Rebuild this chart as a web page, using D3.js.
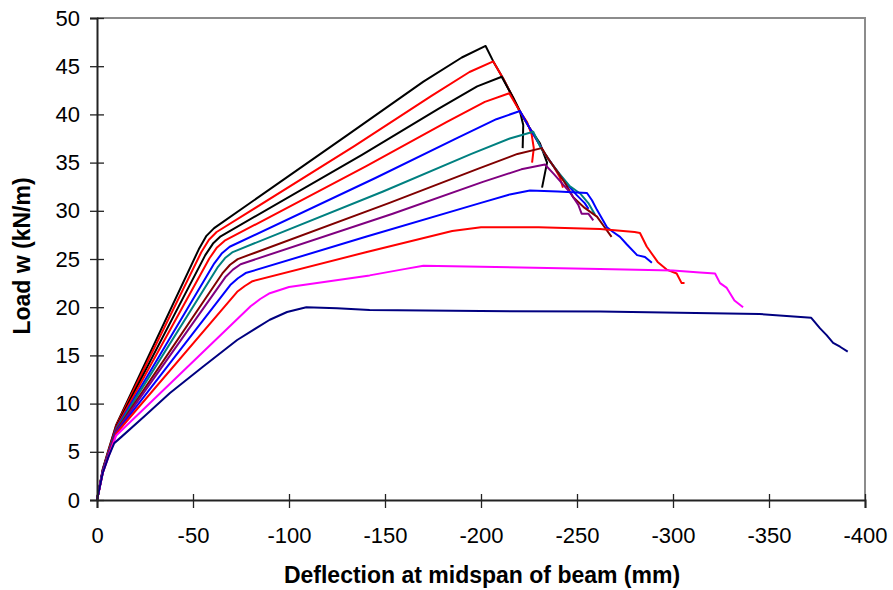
<!DOCTYPE html>
<html>
<head>
<meta charset="utf-8">
<script src="https://cdn.jsdelivr.net/npm/d3@7"></script>
<style>
  body { margin: 0; background: #fff; }
  svg { font-family: "Liberation Sans", Arial, sans-serif; }
  .line { fill: none; stroke-width: 2; stroke-linejoin: round; }
</style>
</head>
<body>
<svg id="chart" width="893" height="590"></svg>
<script>
// load–deflection curves, [deflection (mm), load (kN/m)]
const black1 = [[0,0],[-3,3.2],[-6,5.2],[-10,7.8],[-53,26.0],[-57,27.4],[-61,28.2],[-130,37.8],[-170,43.4],[-190,45.9],[-202.4,47.1],
  [-206.4,45.5],[-211.6,43.7],[-216.8,41.7],[-220.3,40.3],[-222,38.9],[-221.7,36.5]];
const red2 = [[0,0],[-3,3.1],[-6,5.1],[-10,7.7],[-54.3,25.7],[-58.3,27.0],[-62.3,27.8],[-134,36.7],[-174,41.9],[-194,44.4],[-206.4,45.5],
  [-211.6,43.7],[-216.8,41.7],[-220.3,40.3],[-224,39.2],[-226.4,37.9],[-227.5,36.5],[-226.6,35.0]];
const black3 = [[0,0],[-3,3.1],[-6,5.0],[-10,7.6],[-56.4,25.4],[-60.4,26.6],[-64.4,27.35],[-138,35.8],[-178,40.6],[-198,42.9],[-210.8,43.9],
  [-216.8,41.7],[-220.3,40.3],[-225,38.7],[-230.7,37.0],[-234.4,35.0],[-231.8,32.4]];
const red4 = [[0,0],[-3,3.0],[-6,5.0],[-10,7.5],[-58.5,25.05],[-62.5,26.2],[-66.5,26.9],[-140,34.6],[-182,39.2],[-202,41.3],[-214.7,42.2],
  [-220.3,40.3],[-225,38.7],[-229.2,37.3],[-233,36.0],[-237.5,34.7],[-241,33.5],[-242.7,32.4]];
const blue5 = [[0,0],[-3,3.0],[-6,4.9],[-10,7.4],[-61.1,24.55],[-65.1,25.6],[-69.1,26.27],[-145,33.4],[-188,37.6],[-208,39.5],[-220.3,40.35],
  [-225,38.7],[-229.2,37.3],[-233,36.0],[-237.5,34.7],[-242,33.5],[-246.4,32.4],[-250,31.6],[-254,30.8],[-256,30.2]];
const teal6 = [[0,0],[-3,3.0],[-6,4.9],[-10,7.3],[-62.7,24.1],[-66.7,25.1],[-70.7,25.72],[-149,32.0],[-195,35.9],[-215,37.5],[-227.2,38.2],
  [-231,36.6],[-236,35.1],[-241,33.8],[-246,32.6],[-251.6,31.8],[-255.9,30.8],[-259.4,29.6]];
const maroon7 = [[0,0],[-3,3.0],[-6,4.8],[-10,7.2],[-65.3,23.5],[-69.3,24.4],[-73.3,24.99],[-152,30.8],[-199,34.4],[-219,35.9],[-231.6,36.5],
  [-235,35.4],[-240,34.0],[-244,32.8],[-248,31.4],[-254,30.3],[-260.4,29.4],[-264,28.4],[-268,27.3]];
const purple8 = [[0,0],[-3,2.9],[-6,4.8],[-10,7.1],[-66.8,23.1],[-70.8,23.9],[-74.8,24.46],[-154,29.7],[-201,33.0],[-221,34.3],[-233.3,34.8],
  [-238,33.8],[-242,32.9],[-246.4,31.9],[-250.7,30.6],[-252.4,29.7],[-255.9,29.7],[-258.5,29.0]];
const blue9 = [[0,0],[-3,2.9],[-6,4.7],[-10,7.0],[-69.4,22.3],[-73.4,23.0],[-77.4,23.54],[-140,27.3],[-199.5,30.8],[-215,31.7],[-225.5,32.1],
  [-240,32.0],[-250,31.9],[-255.2,31.85],[-257.8,31.1],[-260.4,30.1],[-265.6,28.3],[-268.8,27.8],[-272.4,27.3],[-276,26.5],
  [-281.3,25.4],[-285.4,25.2],[-289,24.6]];
const red10 = [[0,0],[-3,2.8],[-6,4.6],[-10,6.9],[-73,21.6],[-77,22.2],[-81,22.7],[-140,25.7],[-185,27.9],[-200,28.3],[-230,28.3],
  [-262,28.1],[-280,27.8],[-282.8,27.7],[-286.3,26.3],[-292,24.7],[-296.7,23.9],[-301.9,23.5],[-304.5,22.5],[-306,22.5]];
const magenta11 = [[0,0],[-3,2.8],[-6,4.5],[-10,6.7],[-80,20.1],[-85,20.85],[-90,21.45],[-100,22.1],[-142,23.3],[-160,23.95],[-170,24.3],
  [-200,24.2],[-262,23.95],[-300,23.8],[-314,23.6],[-321.9,23.5],[-324.5,22.5],[-328,22.0],[-332,20.7],[-336.5,20.0]];
const navy12 = [[0,0],[-3,2.8],[-6,4.5],[-9,5.9],[-13,6.6],[-25,8.75],[-38,11.1],[-55,13.8],[-73,16.6],[-90,18.7],[-99,19.5],
  [-109,20.0],[-125,19.9],[-142,19.7],[-200,19.6],[-262,19.55],[-345,19.3],[-372,18.9],[-376.6,17.8],[-380,17.1],
  [-383.4,16.3],[-387,15.9],[-391,15.4]];

const seriesData = [black1, red2, black3, red4, blue5, teal6, maroon7, purple8, blue9, red10, magenta11, navy12];
const seriesColors = ['#000000', '#ff0000', '#000000', '#ff0000', '#0000ff', '#008080', '#800000', '#800080',
  '#0000ff', '#ff0000', '#ff00ff', '#000080'];

const xTicks = [0, -50, -100, -150, -200, -250, -300, -350, -400];
const yTicks = [0, 5, 10, 15, 20, 25, 30, 35, 40, 45, 50];

const plot = { left: 97, right: 865, top: 18, bottom: 500 };

const svg = d3.select('#chart');

const x = d3.scaleLinear().domain([0, -400]).range([plot.left, plot.right]);
const y = d3.scaleLinear().domain([0, 50]).range([plot.bottom, plot.top]);

// plot area frame (top and right edges are grey)
svg.append('path')
  .attr('d', `M${plot.left},${plot.top}H${plot.right}V${plot.bottom}`)
  .attr('fill', 'none')
  .attr('stroke', '#8c8c8c')
  .attr('stroke-width', 2);

const line = d3.line()
  .x(d => x(d[0]))
  .y(d => y(d[1]));

svg.append('g')
  .selectAll('path')
  .data(seriesData)
  .join('path')
    .attr('class', 'line')
    .attr('stroke', (d, i) => seriesColors[i])
    .attr('d', line);

// axes, ticks cross the axis line
const fmt = d => String(d);

const yAxis = svg.append('g')
  .attr('transform', `translate(${plot.left},0)`)
  .call(d3.axisLeft(y).tickValues(yTicks).tickFormat(fmt).tickSize(7).tickPadding(10));
yAxis.selectAll('.tick line').attr('x1', 7);

const xAxis = svg.append('g')
  .attr('transform', `translate(0,${plot.bottom})`)
  .call(d3.axisBottom(x).tickValues(xTicks).tickFormat(fmt).tickSize(8).tickPadding(19));
xAxis.selectAll('.tick line').attr('y1', -6);

[yAxis, xAxis].forEach(g => {
  g.select('.domain').attr('stroke', '#222').attr('stroke-width', 2);
  g.selectAll('.tick line').attr('stroke', '#222').attr('stroke-width', 1.3);
  g.selectAll('text')
    .attr('font-family', '"Liberation Sans", Arial, sans-serif')
    .attr('font-size', 22)
    .attr('fill', '#000');
});

svg.append('text')
  .attr('x', 482)
  .attr('y', 583)
  .attr('text-anchor', 'middle')
  .attr('font-size', 23)
  .attr('font-weight', 'bold')
  .text('Deflection at midspan of beam (mm)');

svg.append('text')
  .attr('transform', 'translate(30,256) rotate(-90)')
  .attr('text-anchor', 'middle')
  .attr('font-size', 23)
  .attr('font-weight', 'bold')
  .text('Load w (kN/m)');
</script>
</body>
</html>
